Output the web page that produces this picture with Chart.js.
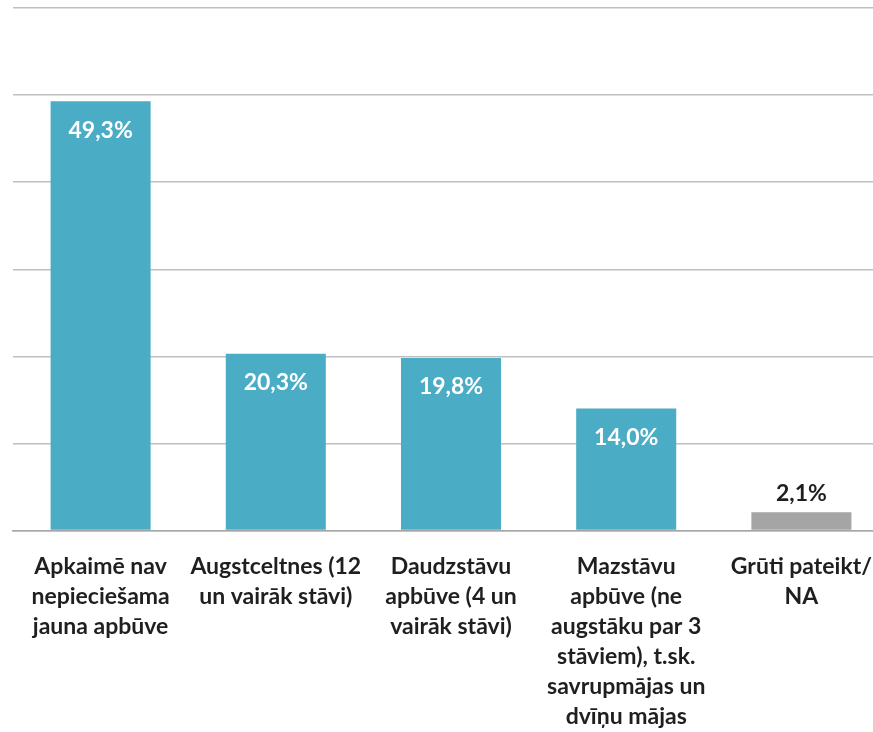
<!DOCTYPE html>
<html>
<head>
<meta charset="utf-8">
<script src="https://cdn.jsdelivr.net/npm/chart.js@4/dist/chart.umd.min.js"></script>
<style>
  html, body { margin: 0; padding: 0; background: #fff; overflow: hidden; }
  #wrap { width: 889px; height: 732px; }
</style>
</head>
<body>
<div id="wrap"><canvas id="chart"></canvas></div>
<script>
// Categories (multi-line labels) and values in percent
const categories = [
  ['Apkaimē nav', 'nepieciešama', 'jauna apbūve'],
  ['Augstceltnes (12', 'un vairāk stāvi)'],
  ['Daudzstāvu', 'apbūve (4 un', 'vairāk stāvi)'],
  ['Mazstāvu', 'apbūve (ne', 'augstāku par 3', 'stāviem), t.sk.', 'savrupmājas un', 'dvīņu mājas'],
  ['Grūti pateikt/', 'NA'],
];
const values = [49.3, 20.3, 19.8, 14.0, 2.1];
const barColors = ['#4bacc6', '#4bacc6', '#4bacc6', '#4bacc6', '#a5a5a5'];

const labelFont = 'bold 23px Lato, "Open Sans", sans-serif';

// Draw the percentage labels: inside the bar when tall enough, above it otherwise
const valueLabels = {
  id: 'valueLabels',
  afterDatasetsDraw(chart) {
    const ctx = chart.ctx;
    const meta = chart.getDatasetMeta(0);
    ctx.save();
    ctx.font = labelFont;
    ctx.textAlign = 'center';
    ctx.textBaseline = 'middle';
    meta.data.forEach((bar, i) => {
      const text = values[i].toFixed(1).replace('.', ',') + '%';
      if (bar.base - bar.y > 40) {
        ctx.fillStyle = '#ffffff';
        ctx.fillText(text, bar.x, bar.y + 29);
      } else {
        ctx.fillStyle = '#1f1f1f';
        ctx.fillText(text, bar.x, bar.y - 19);
      }
    });
    ctx.restore();
  },
};

new Chart(document.getElementById('chart'), {
  type: 'bar',
  data: {
    labels: categories,
    datasets: [
      {
        data: values,
        backgroundColor: barColors,
        categoryPercentage: 1,
        barPercentage: 0.571,
      },
    ],
  },
  options: {
    responsive: true,
    maintainAspectRatio: false,
    animation: false,
    layout: { padding: { left: 13, top: 8, right: 0, bottom: 0 } },
    plugins: {
      legend: { display: false },
      tooltip: { enabled: false },
    },
    scales: {
      x: {
        grid: { display: false },
        border: { color: '#a6a6a6', width: 1.5 },
        ticks: {
          color: '#1f1f1f',
          font: { family: 'Lato, "Open Sans", sans-serif', size: 23, weight: 'bold', lineHeight: '30px' },
          padding: 13,
          maxRotation: 0,
          autoSkip: false,
        },
        afterFit(scale) {
          scale.height = 201.5;
        },
      },
      y: {
        min: 0,
        max: 60,
        ticks: { display: false, stepSize: 10 },
        border: { display: false },
        grid: { color: '#bfbfbf', lineWidth: 1.5, drawTicks: false },
      },
    },
  },
  plugins: [valueLabels],
});
</script>
</body>
</html>
